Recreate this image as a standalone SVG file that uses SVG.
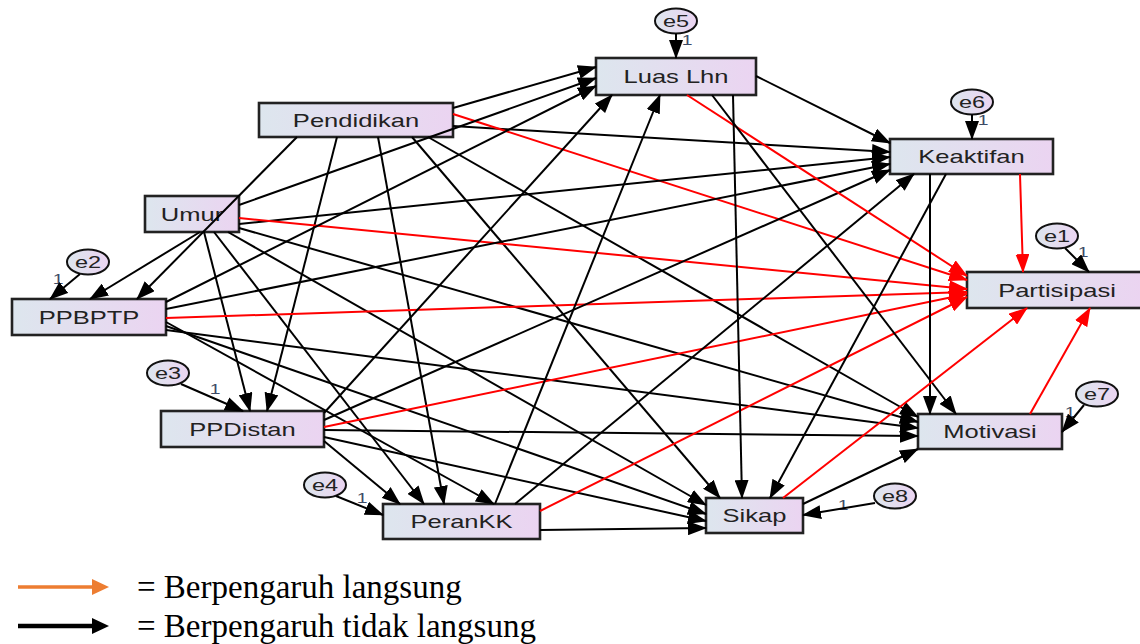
<svg xmlns="http://www.w3.org/2000/svg" width="1140" height="644" viewBox="0 0 1140 644">
<defs>
<linearGradient id="g" x1="0" y1="0" x2="1" y2="0"><stop offset="0" stop-color="#dde6ee"/><stop offset="1" stop-color="#ebd4f1"/></linearGradient>
<marker id="ab" viewBox="0 0 19 14" refX="18" refY="7" markerWidth="19" markerHeight="14" markerUnits="userSpaceOnUse" orient="auto"><path d="M0,0 L19,7 L0,14 z" fill="#000"/></marker>
<marker id="ar" viewBox="0 0 19 14" refX="18" refY="7" markerWidth="19" markerHeight="14" markerUnits="userSpaceOnUse" orient="auto"><path d="M0,0 L19,7 L0,14 z" fill="#ff0000"/></marker>
<style>
.box{fill:url(#g);stroke:#222;stroke-width:2.6}
.el{fill:url(#g);stroke:#111;stroke-width:2}
.t{font-family:"Liberation Sans",Arial,sans-serif;font-size:18.5px;fill:#222;text-anchor:middle}
.te{font-family:"Liberation Sans",Arial,sans-serif;font-size:17px;fill:#222;text-anchor:middle}
.one{font-family:"Liberation Sans",Arial,sans-serif;font-size:14px;fill:#3c4a66;text-anchor:middle}
.b{stroke:#000;stroke-width:2;fill:none;marker-end:url(#ab)}
.r{stroke:#ff0000;stroke-width:2;fill:none;marker-end:url(#ar)}
.lg{font-family:"Liberation Serif","Times New Roman",serif;font-size:33px;fill:#000}
</style>
</defs>
<rect width="1140" height="644" fill="#fff"/>

<g id="node-luas"><rect class="box" x="596" y="58" width="160" height="37"/><text class="t" transform="translate(676,83) scale(1.38,1)">Luas Lhn</text></g>
<g id="node-pendidikan"><rect class="box" x="259" y="103" width="194" height="34"/><text class="t" transform="translate(356,126.5) scale(1.38,1)">Pendidikan</text></g>
<g id="node-umur"><rect class="box" x="145" y="196" width="94" height="36"/><text class="t" transform="translate(192,220.5) scale(1.38,1)">Umur</text></g>
<g id="node-ppbptp"><rect class="box" x="12" y="299" width="154" height="36"/><text class="t" transform="translate(89,323.5) scale(1.38,1)">PPBPTP</text></g>
<g id="node-ppdistan"><rect class="box" x="161" y="411" width="163" height="36"/><text class="t" transform="translate(242.5,435.5) scale(1.38,1)">PPDistan</text></g>
<g id="node-perankk"><rect class="box" x="383" y="504" width="157" height="35"/><text class="t" transform="translate(461.5,528) scale(1.38,1)">PeranKK</text></g>
<g id="node-sikap"><rect class="box" x="706" y="498" width="97" height="35"/><text class="t" transform="translate(754.5,522) scale(1.38,1)">Sikap</text></g>
<g id="node-motivasi"><rect class="box" x="918" y="414" width="144" height="35"/><text class="t" transform="translate(990,438) scale(1.38,1)">Motivasi</text></g>
<g id="node-partisipasi"><rect class="box" x="967" y="272" width="175" height="36"/><text class="t" transform="translate(1057,296.5) scale(1.38,1)">Partisipasi</text></g>
<g id="node-keaktifan"><rect class="box" x="890" y="139" width="163" height="35"/><text class="t" transform="translate(971.5,163) scale(1.38,1)">Keaktifan</text></g>

<g id="node-e5"><ellipse class="el" cx="676" cy="21" rx="21" ry="12.5"/><text class="te" transform="translate(676,27) scale(1.38,1)">e5</text><text class="one" transform="translate(687,45) scale(1.38,1)">1</text></g>
<g id="node-e6"><ellipse class="el" cx="972" cy="102" rx="21" ry="12.5"/><text class="te" transform="translate(972,108) scale(1.38,1)">e6</text><text class="one" transform="translate(983,125) scale(1.38,1)">1</text></g>
<g id="node-e1"><ellipse class="el" cx="1057" cy="236" rx="21" ry="12.5"/><text class="te" transform="translate(1057,242) scale(1.38,1)">e1</text><text class="one" transform="translate(1083,257) scale(1.38,1)">1</text></g>
<g id="node-e2"><ellipse class="el" cx="88" cy="262" rx="21" ry="12.5"/><text class="te" transform="translate(88,268) scale(1.38,1)">e2</text><text class="one" transform="translate(58,284) scale(1.38,1)">1</text></g>
<g id="node-e3"><ellipse class="el" cx="168" cy="373" rx="21" ry="12.5"/><text class="te" transform="translate(168,379) scale(1.38,1)">e3</text><text class="one" transform="translate(215,394) scale(1.38,1)">1</text></g>
<g id="node-e4"><ellipse class="el" cx="325" cy="485" rx="21" ry="12.5"/><text class="te" transform="translate(325,491) scale(1.38,1)">e4</text><text class="one" transform="translate(362,503) scale(1.38,1)">1</text></g>
<g id="node-e7"><ellipse class="el" cx="1097" cy="394" rx="21" ry="12.5"/><text class="te" transform="translate(1097,400) scale(1.38,1)">e7</text><text class="one" transform="translate(1070,417) scale(1.38,1)">1</text></g>
<g id="node-e8"><ellipse class="el" cx="895" cy="496" rx="21" ry="12.5"/><text class="te" transform="translate(895,502) scale(1.38,1)">e8</text><text class="one" transform="translate(843,510) scale(1.38,1)">1</text></g>

<g id="connectors">
<line class="b" x1="676" y1="33.5" x2="676" y2="58"/>
<line class="b" x1="972" y1="114.5" x2="972" y2="139"/>
<line class="b" x1="1065" y1="248" x2="1089" y2="272"/>
<line class="b" x1="80" y1="274" x2="50" y2="299"/>
<line class="b" x1="181" y1="384" x2="243" y2="411"/>
<line class="b" x1="336" y1="496" x2="383" y2="515"/>
<line class="b" x1="1084" y1="405" x2="1062" y2="432"/>
<line class="b" x1="875" y1="503" x2="803" y2="515"/>
<line class="b" x1="453" y1="108" x2="596" y2="67"/>
<line class="b" x1="453" y1="126" x2="890" y2="152"/>
<line class="r" x1="453" y1="114" x2="967" y2="280"/>
<line class="b" x1="297" y1="137" x2="137" y2="299"/>
<line class="b" x1="337" y1="137" x2="267" y2="411"/>
<line class="b" x1="378" y1="137" x2="444" y2="504"/>
<line class="b" x1="412" y1="137" x2="720" y2="498"/>
<line class="b" x1="428" y1="137" x2="918" y2="417"/>
<line class="b" x1="200" y1="232" x2="90" y2="299"/>
<line class="b" x1="204" y1="232" x2="250" y2="411"/>
<line class="b" x1="214" y1="232" x2="424" y2="504"/>
<line class="b" x1="228" y1="232" x2="706" y2="505"/>
<line class="b" x1="239" y1="228" x2="918" y2="422"/>
<line class="b" x1="239" y1="224" x2="890" y2="157"/>
<line class="b" x1="239" y1="205" x2="596" y2="78"/>
<line class="r" x1="239" y1="218" x2="967" y2="289"/>
<line class="b" x1="166" y1="302" x2="596" y2="86"/>
<line class="b" x1="166" y1="309" x2="890" y2="164"/>
<line class="r" x1="166" y1="318" x2="967" y2="292"/>
<line class="b" x1="166" y1="322" x2="494" y2="504"/>
<line class="b" x1="166" y1="326" x2="706" y2="514"/>
<line class="b" x1="166" y1="330" x2="918" y2="428"/>
<line class="b" x1="324" y1="413" x2="612" y2="95"/>
<line class="b" x1="324" y1="420" x2="890" y2="170"/>
<line class="r" x1="324" y1="427" x2="967" y2="294"/>
<line class="b" x1="324" y1="441" x2="400" y2="504"/>
<line class="b" x1="324" y1="437" x2="706" y2="521"/>
<line class="b" x1="324" y1="430" x2="918" y2="436"/>
<line class="b" x1="495" y1="504" x2="660" y2="95"/>
<line class="b" x1="515" y1="504" x2="914" y2="174"/>
<line class="r" x1="540" y1="511" x2="967" y2="297"/>
<line class="b" x1="540" y1="530" x2="706" y2="528"/>
<line class="b" x1="756" y1="76" x2="890" y2="143"/>
<line class="r" x1="687" y1="95" x2="967" y2="276"/>
<line class="b" x1="733" y1="95" x2="742" y2="498"/>
<line class="b" x1="712" y1="95" x2="956" y2="414"/>
<line class="r" x1="1020" y1="174" x2="1023" y2="272"/>
<line class="b" x1="930" y1="174" x2="930" y2="414"/>
<line class="b" x1="946" y1="174" x2="770" y2="498"/>
<line class="b" x1="803" y1="504" x2="918" y2="449"/>
<line class="r" x1="783" y1="498" x2="1027" y2="308"/>
<line class="r" x1="1030" y1="414" x2="1090" y2="308"/>
</g>

<g id="legend">
<line x1="18" y1="587" x2="95" y2="587" stroke="#ed7d31" stroke-width="3.5"/>
<polygon points="92,579 109,587 92,595" fill="#ed7d31"/>
<text class="lg" x="137" y="598">= Berpengaruh langsung</text>
<line x1="18" y1="626" x2="95" y2="626" stroke="#000" stroke-width="4.5"/>
<polygon points="92,618 109,626 92,634" fill="#000"/>
<text class="lg" x="137" y="637">= Berpengaruh tidak langsung</text>
</g>
</svg>
